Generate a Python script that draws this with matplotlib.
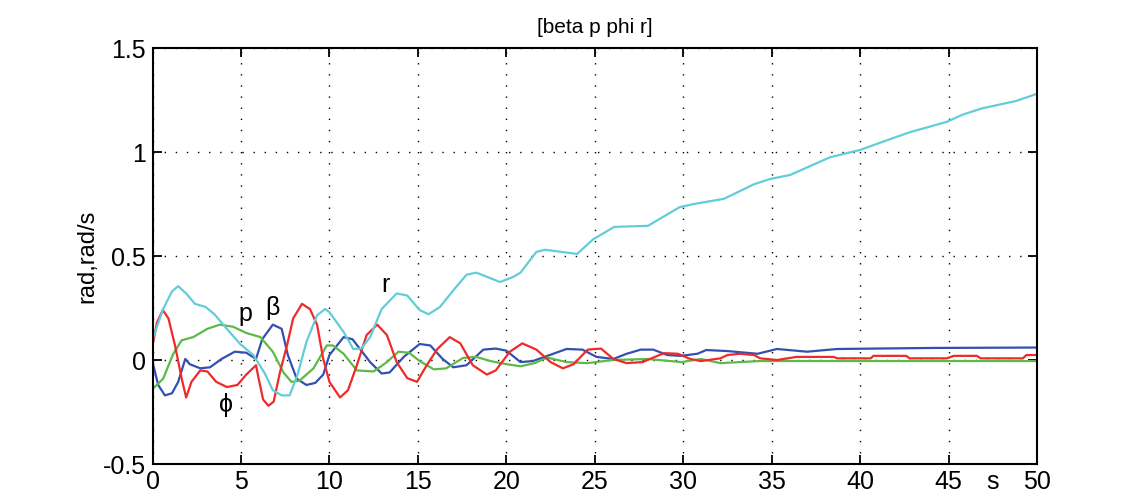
import matplotlib
matplotlib.use('Agg')
import matplotlib.pyplot as plt

# Values as (time s, value)
beta_pts = [(0, -0.01), (0.32, -0.12), (0.7, -0.17), (1.1, -0.16), (1.45, -0.105), (1.85, 0.005),
            (2.1, -0.02), (2.7, -0.04), (3.25, -0.035), (3.9, 0.005), (4.65, 0.04), (5.3, 0.035),
            (5.85, 0.005), (6.2, 0.1), (6.8, 0.17), (7.3, 0.15), (7.65, 0.024), (8.15, -0.09),
            (8.7, -0.12), (9.2, -0.11), (9.65, -0.07), (10.0, 0.024), (10.8, 0.11), (11.3, 0.1),
            (12.3, -0.01), (12.95, -0.065), (13.4, -0.06), (14.2, 0.015), (15.1, 0.077), (15.7, 0.07),
            (16.4, 0.005), (17.0, -0.035), (17.75, -0.025), (18.7, 0.05), (19.4, 0.055), (20.0, 0.045),
            (20.8, -0.01), (21.5, -0.005), (22.65, 0.03), (23.4, 0.053), (24.3, 0.05), (25.1, 0.015),
            (26.05, 0.005), (26.8, 0.03), (27.6, 0.05), (28.3, 0.05), (29.1, 0.024), (29.85, 0.02),
            (30.8, 0.03), (31.3, 0.048), (32.5, 0.043), (34.2, 0.03), (35.3, 0.053), (37.0, 0.04),
            (38.7, 0.053), (44.1, 0.058), (50, 0.06)]

p_pts = [(0, -0.14), (0.6, -0.09), (1.17, 0.03), (1.65, 0.095), (2.3, 0.11), (3.1, 0.15),
         (3.8, 0.17), (4.55, 0.16), (5.3, 0.13), (6.1, 0.11), (6.8, 0.04), (7.4, -0.06),
         (7.85, -0.105), (8.3, -0.1), (9.1, -0.04), (9.85, 0.07), (10.2, 0.07), (10.8, 0.03),
         (11.55, -0.05), (12.5, -0.055), (13.25, -0.01), (13.9, 0.04), (14.5, 0.035), (15.1, -0.005),
         (15.9, -0.045), (16.6, -0.04), (17.55, 0.01), (18.3, 0.015), (19.1, -0.005), (20.0, -0.02),
         (20.8, -0.03), (21.6, -0.015), (22.3, 0.012), (23.4, -0.01), (24.6, -0.015), (26.0, 0.0),
         (28.0, 0.005), (29.9, -0.01), (31.0, 0.005), (32.1, -0.015), (34.3, -0.005), (40, -0.005),
         (50, -0.005)]

phi_pts = [(0, 0.07), (0.25, 0.18), (0.58, 0.24), (0.9, 0.2), (1.27, 0.07), (1.65, -0.09),
           (1.9, -0.18), (2.2, -0.105), (2.7, -0.05), (3.1, -0.055), (3.6, -0.105), (4.2, -0.13),
           (4.8, -0.12), (5.3, -0.07), (5.85, -0.025), (6.0, -0.09), (6.25, -0.19), (6.55, -0.22),
           (6.85, -0.2), (7.2, -0.06), (7.6, 0.07), (7.95, 0.2), (8.45, 0.27), (8.9, 0.245),
           (9.3, 0.17), (9.65, 0.005), (10.0, -0.105), (10.6, -0.18), (11.05, -0.145), (11.55, -0.025),
           (12.1, 0.12), (12.7, 0.17), (13.25, 0.12), (13.8, -0.01), (14.4, -0.087), (14.95, -0.105),
           (15.5, -0.025), (16.1, 0.053), (16.8, 0.11), (17.4, 0.08), (18.1, -0.025), (18.9, -0.07),
           (19.4, -0.05), (20.2, 0.04), (20.9, 0.08), (21.7, 0.05), (22.5, -0.01), (23.2, -0.04),
           (23.8, -0.02), (24.6, 0.05), (25.35, 0.055), (26.05, 0.005), (26.8, -0.015), (27.7, -0.01),
           (28.9, 0.033), (29.7, 0.03), (30.4, 0.005), (31.0, -0.005), (32.1, 0.008), (32.5, 0.024),
           (33.2, 0.03), (34.0, 0.024), (34.35, 0.008), (35.3, 0.0), (36.4, 0.015), (38.5, 0.015),
           (38.7, 0.008), (40.6, 0.008), (40.75, 0.02), (42.6, 0.02), (42.8, 0.008), (44.9, 0.008),
           (45.3, 0.02), (46.6, 0.02), (46.8, 0.008), (49.2, 0.008), (49.4, 0.024), (50, 0.024)]

r_pts = [(0, 0.1), (0.6, 0.245), (1.1, 0.33), (1.45, 0.355), (1.9, 0.32), (2.4, 0.27), (3.0, 0.255),
         (3.5, 0.22), (4.2, 0.15), (4.95, 0.077), (5.7, 0.024), (6.35, -0.065), (6.8, -0.145),
         (7.3, -0.17), (7.75, -0.17), (8.2, -0.07), (8.7, 0.087), (9.3, 0.215), (9.75, 0.245),
         (10.0, 0.23), (10.8, 0.135), (11.35, 0.053), (11.8, 0.055), (12.3, 0.11), (12.95, 0.245),
         (13.8, 0.32), (14.4, 0.31), (15.1, 0.24), (15.6, 0.22), (16.25, 0.255), (17.0, 0.335),
         (17.75, 0.41), (18.3, 0.42), (19.65, 0.375), (20.4, 0.40), (20.8, 0.42), (21.7, 0.52),
         (22.2, 0.53), (24.0, 0.51), (24.9, 0.58), (26.1, 0.64), (28.0, 0.645), (29.8, 0.735),
         (30.6, 0.75), (32.3, 0.775), (34.0, 0.845), (34.9, 0.87), (36.05, 0.89), (38.3, 0.975),
         (40.0, 1.01), (41.3, 1.05), (42.8, 1.095), (44.9, 1.145), (45.8, 1.18), (46.9, 1.21),
         (48.8, 1.245), (50, 1.28)]

series = [
    (beta_pts, '#3350b0'),
    (p_pts, '#5cba48'),
    (phi_pts, '#f02a2a'),
    (r_pts, '#62cdda'),
]

# curve labels (text, x, y)
curve_labels = [('p', 5.23, 0.22), ('β', 6.8, 0.25), ('r', 13.15, 0.36), ('ϕ', 4.15, -0.215)]

x_ticks = [0, 5, 10, 15, 20, 25, 30, 35, 40, 45, 50]
y_ticks = [-0.5, 0, 0.5, 1, 1.5]
y_tick_labels = ['-0.5', '0', '0.5', '1', '1.5']


def main():
    plt.rcParams['font.family'] = ['Liberation Sans', 'DejaVu Sans']
    fig = plt.figure(figsize=(11.4, 4.94), dpi=100)
    ax = fig.add_axes([0.1338, 0.0607, 0.7759, 0.8421])

    for pts, color in series:
        t = [a for a, b in pts]
        v = [b for a, b in pts]
        ax.plot(t, v, color=color, linewidth=1.6, solid_joinstyle='round')

    for txt, x, y in curve_labels:
        ax.text(x, y, txt, fontsize=18, ha='center', va='center')

    ax.set_xlim(0, 50)
    ax.set_ylim(-0.5, 1.5)
    ax.set_xticks(x_ticks)
    ax.set_xticklabels([str(v) for v in x_ticks])
    ax.set_yticks(y_ticks)
    ax.set_yticklabels(y_tick_labels)
    ax.tick_params(direction='in', length=6.5, width=1.3, labelsize=18,
                   top=True, right=True)
    ax.tick_params(axis='x', pad=4)
    ax.tick_params(axis='y', pad=5)
    ax.grid(True, color='black', linestyle=(0, (1, 7)), linewidth=1.0)
    for sp in ax.spines.values():
        sp.set_linewidth(1.5)

    ax.set_title('[beta p phi r]', fontsize=15, pad=11)
    ax.set_ylabel('rad,rad/s', fontsize=17, labelpad=3)
    ax.annotate('s', xy=(47.46, 0), xycoords=('data', 'axes fraction'),
                xytext=(0, -4), textcoords='offset points',
                ha='center', va='top', fontsize=18)

    fig.savefig('out.png', dpi=100)


if __name__ == '__main__':
    main()
